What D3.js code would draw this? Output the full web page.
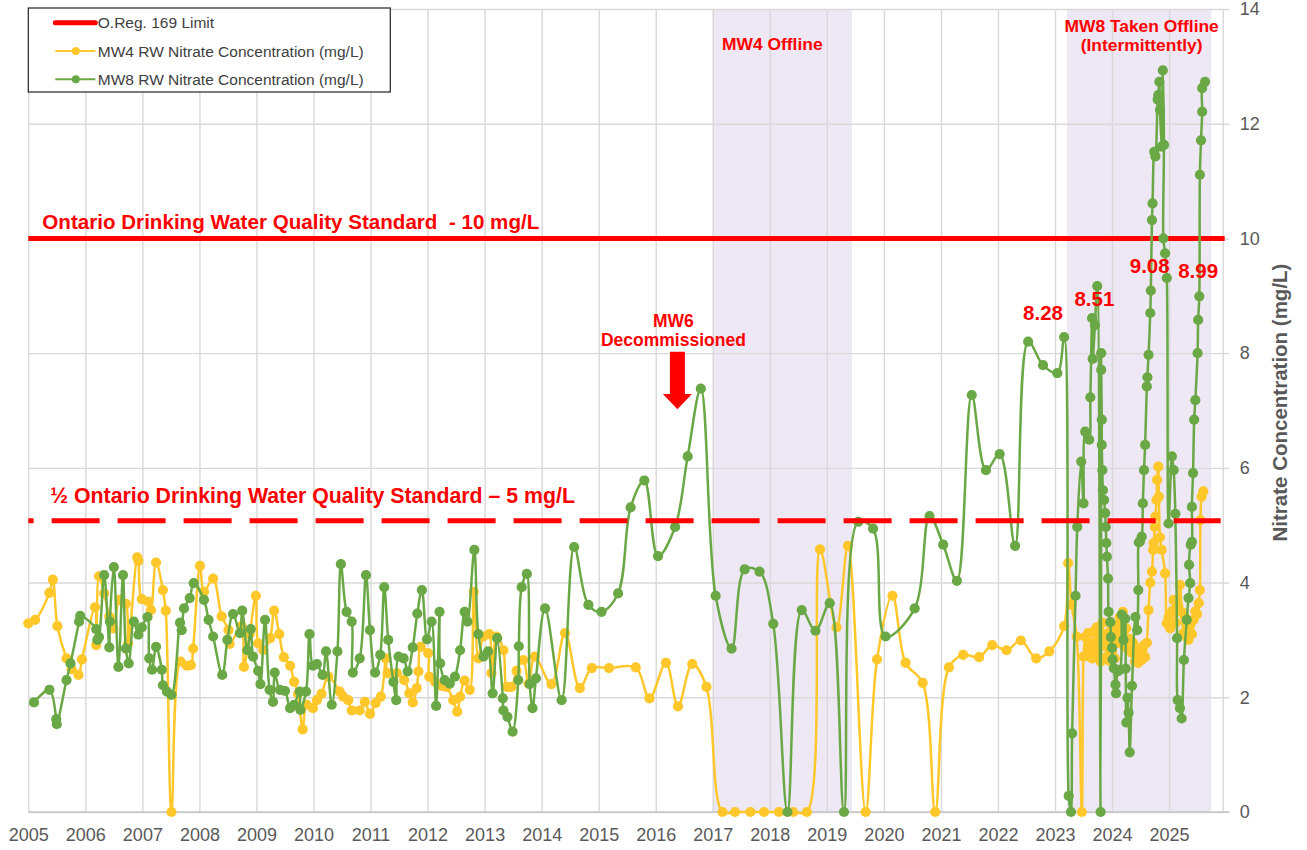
<!DOCTYPE html>
<html>
<head>
<meta charset="utf-8">
<script src="https://cdn.jsdelivr.net/npm/d3@7"></script>
<style>
  body { margin: 0; background: #fff; }
  svg { display: block; font-family: Arial, "Liberation Sans", sans-serif; }
</style>
</head>
<body>
<div id="chart"></div>
<script>
// ---- data ([decimal year, mg/L]) ----
const years = d3.range(2005, 2026)
const yTicks = d3.range(0, 15, 2)
const xMax = 2025.94

const limit = 10          // O.Reg. 169 / ODWQS
const halfLimit = 5.08    // ½ ODWQS line as drawn

const offlineBands = [
  { from: 2017.0, to: 2019.44, label: ["MW4 Offline"] },
  { from: 2023.21, to: 2025.74, label: ["MW8 Taken Offline", "(Intermittently)"] }
]

const peakLabels = ["8.28", "8.51", "9.08", "8.99"]

const mw4 = [
  [2005.00,3.29],[2005.12,3.35],[2005.37,3.82],[2005.43,4.05],[2005.51,3.24],[2005.67,2.68],[2005.76,2.49],[2005.88,2.39],
  [2005.94,2.66],[2006.17,3.57],[2006.19,2.91],[2006.24,4.11],[2006.33,3.81],[2006.42,3.41],[2006.49,3.20],[2006.60,3.70],
  [2006.71,3.63],[2006.75,2.94],[2006.91,4.44],[2006.93,4.38],[2006.99,3.71],[2007.10,3.67],[2007.15,3.52],[2007.24,4.35],
  [2007.36,3.87],[2007.41,3.51],[2007.51,0],[2007.67,2.62],[2007.78,2.55],[2007.85,2.56],[2007.89,2.85],[2008.01,4.29],
  [2008.08,3.84],[2008.24,4.07],[2008.39,3.41],[2008.51,3.17],[2008.53,2.93],[2008.74,3.24],[2008.78,2.53],[2008.88,3.10],
  [2008.99,3.77],[2009.03,2.94],[2009.12,2.82],[2009.24,3.03],[2009.31,3.51],[2009.40,3.10],[2009.48,2.70],[2009.59,2.55],
  [2009.66,2.27],[2009.73,2.06],[2009.81,1.44],[2009.88,1.87],[2009.99,1.81],[2010.06,1.95],[2010.14,2.06],[2010.26,2.36],
  [2010.46,2.10],[2010.52,2.01],[2010.61,1.95],[2010.67,1.77],[2010.81,1.77],[2010.90,1.92],[2010.99,1.71],[2011.09,1.90],
  [2011.18,2.01],[2011.27,2.68],[2011.30,2.42],[2011.46,2.42],[2011.59,2.30],[2011.68,2.07],[2011.74,1.91],[2011.81,2.16],
  [2011.84,2.45],[2011.88,2.88],[2012.01,2.77],[2012.03,2.36],[2012.13,2.27],[2012.25,2.20],[2012.33,2.18],[2012.45,1.95],
  [2012.52,1.75],[2012.57,2.01],[2012.65,2.29],[2012.74,2.13],[2012.81,3.84],[2012.89,2.68],[2012.98,3.06],[2013.08,3.10],
  [2013.12,2.42],[2013.21,3.06],[2013.33,2.82],[2013.39,2.18],[2013.47,2.18],[2013.56,2.46],[2013.68,2.65],[2013.77,2.24],
  [2013.88,2.71],[2014.17,2.23],[2014.41,3.12],[2014.67,2.16],[2014.88,2.51],[2015.18,2.51],[2015.65,2.52],[2015.89,1.98],
  [2016.18,2.60],[2016.39,1.84],[2016.64,2.58],[2016.89,2.18],[2017.17,0],[2017.39,0],[2017.66,0],[2017.90,0],
  [2018.16,0],[2018.41,0],[2018.65,0],[2018.88,4.58],[2019.17,3.22],[2019.37,4.64],[2019.68,0],[2019.88,2.66],
  [2020.15,3.77],[2020.38,2.60],[2020.68,2.25],[2020.90,0],[2021.14,2.52],[2021.39,2.74],[2021.67,2.70],[2021.90,2.91],
  [2022.15,2.82],[2022.40,2.99],[2022.67,2.68],[2022.90,2.80],[2023.16,3.24],[2023.23,4.34],[2023.29,3.61],[2023.38,3.06],
  [2023.47,0],[2023.50,2.71],[2023.53,3.05],[2023.55,2.72],[2023.58,3.12],[2023.60,2.80],[2023.63,2.95],[2023.65,2.68],
  [2023.68,3.15],[2023.70,2.85],[2023.73,3.22],[2023.75,2.75],[2023.78,3.05],[2023.80,2.62],[2023.83,3.30],[2023.85,2.90],
  [2023.88,3.10],[2023.90,2.70],[2023.93,3.00],[2023.95,2.64],[2023.98,3.18],[2024.00,2.82],[2024.03,3.08],[2024.05,2.68],
  [2024.08,3.25],[2024.10,2.95],[2024.13,3.40],[2024.16,3.05],[2024.19,3.49],[2024.22,2.88],[2024.25,3.20],[2024.28,2.92],
  [2024.31,3.02],[2024.34,2.78],[2024.37,2.95],[2024.40,2.62],[2024.43,2.85],[2024.46,2.60],[2024.49,2.75],[2024.52,2.65],
  [2024.55,2.90],[2024.58,2.70],[2024.61,2.95],[2024.64,3.52],[2024.67,4.00],[2024.70,4.19],[2024.72,4.57],[2024.73,4.69],
  [2024.75,4.97],[2024.76,5.15],[2024.78,5.44],[2024.79,5.79],[2024.81,6.02],[2024.82,5.50],[2024.84,4.79],[2024.87,4.57],
  [2024.93,4.16],[2024.96,3.29],[2024.99,3.40],[2025.02,3.20],[2025.05,3.50],[2025.08,3.70],[2025.12,3.30],[2025.16,3.60],
  [2025.19,3.96],[2025.22,3.49],[2025.25,3.12],[2025.28,3.40],[2025.31,3.05],[2025.34,3.00],[2025.37,3.25],[2025.40,3.10],
  [2025.43,3.35],[2025.46,3.50],[2025.49,3.45],[2025.52,3.64],[2025.54,3.87],[2025.55,5.09],[2025.57,5.50],[2025.60,5.59]
]

const mw8 = [
  [2005.10,1.91],[2005.37,2.13],[2005.49,1.62],[2005.50,1.53],[2005.67,2.30],[2005.74,2.59],[2005.89,3.32],[2005.91,3.42],
  [2006.19,3.19],[2006.21,3.00],[2006.24,3.05],[2006.33,4.13],[2006.42,2.87],[2006.43,3.32],[2006.50,4.27],[2006.58,2.53],
  [2006.66,4.13],[2006.71,2.85],[2006.76,2.59],[2006.85,3.32],[2006.93,3.09],[2006.99,3.22],[2007.09,3.40],[2007.12,2.68],
  [2007.17,2.48],[2007.24,2.88],[2007.34,2.48],[2007.36,2.21],[2007.43,2.10],[2007.51,2.04],[2007.66,3.30],[2007.69,3.17],
  [2007.73,3.55],[2007.83,3.73],[2007.90,3.99],[2008.08,3.70],[2008.16,3.35],[2008.24,3.06],[2008.40,2.39],[2008.49,3.00],
  [2008.59,3.45],[2008.71,3.12],[2008.75,3.51],[2008.84,2.82],[2008.90,3.19],[2008.94,2.71],[2009.03,2.46],[2009.07,2.23],
  [2009.15,3.35],[2009.23,2.13],[2009.29,1.92],[2009.32,2.43],[2009.41,2.13],[2009.50,2.11],[2009.59,1.81],[2009.66,1.87],
  [2009.76,2.10],[2009.77,1.78],[2009.87,2.10],[2009.93,3.10],[2009.99,2.55],[2010.06,2.58],[2010.16,2.39],[2010.22,2.80],
  [2010.32,1.87],[2010.42,2.80],[2010.48,4.32],[2010.58,3.49],[2010.67,3.32],[2010.69,2.43],[2010.81,2.68],[2010.92,4.13],
  [2010.99,3.17],[2011.08,2.43],[2011.17,2.74],[2011.24,3.92],[2011.31,3.00],[2011.40,2.27],[2011.45,1.95],[2011.49,2.71],
  [2011.58,2.68],[2011.65,2.45],[2011.74,2.87],[2011.82,3.46],[2011.90,3.87],[2011.99,3.01],[2012.07,3.32],[2012.15,1.85],
  [2012.21,3.49],[2012.22,2.59],[2012.30,2.30],[2012.39,2.24],[2012.48,2.36],[2012.57,2.82],[2012.65,3.49],[2012.70,3.32],
  [2012.82,4.57],[2012.89,3.10],[2012.98,2.71],[2013.06,2.80],[2013.14,2.07],[2013.22,3.03],[2013.32,1.98],[2013.33,1.77],
  [2013.40,1.66],[2013.49,1.40],[2013.59,2.30],[2013.60,2.89],[2013.65,3.92],[2013.74,4.15],[2013.79,2.23],[2013.84,1.81],
  [2013.90,2.33],[2014.06,3.55],[2014.35,1.95],[2014.57,4.62],[2014.82,3.61],[2015.05,3.49],[2015.34,3.81],[2015.56,5.31],
  [2015.80,5.78],[2016.04,4.46],[2016.34,4.97],[2016.56,6.20],[2016.79,7.38],[2017.05,3.77],[2017.33,2.85],[2017.56,4.23],
  [2017.82,4.19],[2018.06,3.28],[2018.31,0],[2018.56,3.52],[2018.80,3.16],[2019.05,3.64],[2019.30,0],[2019.55,5.06],
  [2019.81,4.94],[2020.03,3.06],[2020.54,3.55],[2020.80,5.16],[2021.04,4.66],[2021.28,4.03],[2021.54,7.27],[2021.79,5.96],
  [2022.03,6.24],[2022.30,4.64],[2022.53,8.20],[2022.79,7.79],[2023.04,7.65],[2023.16,8.28],[2023.24,0.28],[2023.28,0],
  [2023.30,1.37],[2023.36,3.77],[2023.39,4.97],[2023.46,6.11],[2023.50,5.38],[2023.53,6.63],[2023.60,6.49],[2023.62,7.23],
  [2023.65,8.61],[2023.66,7.90],[2023.70,8.49],[2023.74,9.17],[2023.80,0],[2023.81,8.00],[2023.81,7.71],[2023.82,6.84],
  [2023.82,6.40],[2023.83,5.96],[2023.84,5.61],[2023.86,5.44],[2023.88,5.21],[2023.89,4.97],[2023.90,4.69],[2023.91,4.45],
  [2023.93,4.07],[2023.94,3.49],[2023.97,3.31],[2023.98,3.05],[2024.00,2.86],[2024.01,2.66],[2024.03,2.51],[2024.06,2.22],
  [2024.07,2.07],[2024.10,2.45],[2024.14,2.48],[2024.17,3.44],[2024.20,3.00],[2024.23,3.37],[2024.24,2.50],[2024.25,1.56],
  [2024.27,1.99],[2024.29,1.73],[2024.31,1.04],[2024.35,2.20],[2024.41,3.40],[2024.44,3.17],[2024.46,3.87],[2024.47,4.70],
  [2024.49,4.72],[2024.52,4.80],[2024.54,5.38],[2024.56,5.96],[2024.58,6.40],[2024.61,7.42],[2024.62,7.58],[2024.64,7.97],
  [2024.67,8.70],[2024.68,9.09],[2024.70,10.32],[2024.71,10.61],[2024.74,11.51],[2024.76,11.43],[2024.80,12.42],[2024.81,12.50],
  [2024.83,12.73],[2024.84,12.24],[2024.87,11.60],[2024.89,12.93],[2024.91,11.63],[2024.90,10.00],[2024.93,9.74],[2024.96,9.31],
  [2024.99,5.03],[2025.05,6.20],[2025.08,5.96],[2025.11,5.20],[2025.14,3.03],[2025.15,1.95],[2025.19,1.81],[2025.22,1.63],
  [2025.26,2.65],[2025.31,3.35],[2025.34,3.73],[2025.37,3.99],[2025.35,4.31],[2025.38,4.66],[2025.40,4.71],[2025.40,5.32],
  [2025.42,5.91],[2025.44,6.84],[2025.46,7.18],[2025.50,8.00],[2025.51,8.58],[2025.53,8.99],[2025.54,11.11],[2025.56,11.71],
  [2025.58,12.21],[2025.58,12.62],[2025.63,12.73]
]

// ---- chart ----
const W = 1307, H = 850
const plotLeft = 28.3, plotRight = 1222.7, plotTop = 9, plotBottom = 812

const x = d3.scaleLinear().domain([2005, xMax]).range([plotLeft, plotRight])
const y = d3.scaleLinear().domain([0, 14]).range([plotBottom, plotTop])

const RED = "#ff0000", YELLOW = "#ffc729", GREEN = "#6aa846", GREY = "#595959"

const svg = d3.select("#chart").append("svg")
  .attr("width", W).attr("height", H)

svg.append("rect").attr("width", W).attr("height", H).attr("fill", "#fff")

// offline bands
svg.selectAll(".band")
  .data(offlineBands)
  .join("rect")
  .attr("class", "band")
  .attr("x", d => x(d.from))
  .attr("width", d => x(d.to) - x(d.from))
  .attr("y", y(14))
  .attr("height", y(0) - y(14))
  .attr("fill", "#ede8f3")

// vertical gridlines
svg.append("g")
  .attr("transform", `translate(0,${plotBottom})`)
  .call(d3.axisBottom(x).tickValues([...years, xMax]).tickSize(-(plotBottom - plotTop)).tickFormat(""))
  .call(g => g.select(".domain").remove())
  .selectAll("line").attr("stroke", "#d9d9d9").attr("stroke-width", 1.4)

// horizontal gridlines (stick out a little on the right like tick marks)
svg.append("g")
  .attr("transform", `translate(${plotRight + 6.5},0)`)
  .call(d3.axisLeft(y).tickValues(yTicks).tickSize(plotRight + 6.5 - plotLeft).tickFormat(""))
  .call(g => g.select(".domain").remove())
  .selectAll("line").attr("stroke", "#d9d9d9").attr("stroke-width", 1.4)

// x axis line + labels
svg.append("line")
  .attr("x1", plotLeft).attr("x2", plotRight + 6.5)
  .attr("y1", y(0)).attr("y2", y(0))
  .attr("stroke", "#c4c4c4").attr("stroke-width", 1.6)

svg.append("g")
  .attr("transform", `translate(0,${plotBottom})`)
  .call(d3.axisBottom(x).tickValues(years).tickSize(0).tickPadding(16.5).tickFormat(d3.format("d")))
  .call(g => g.select(".domain").remove())
  .selectAll("text")
  .attr("fill", GREY).style("font-size", "18px")

// y axis labels on the right
svg.append("g")
  .attr("transform", `translate(${plotRight},0)`)
  .call(d3.axisRight(y).tickValues(yTicks).tickSize(0).tickPadding(17))
  .call(g => g.select(".domain").remove())
  .selectAll("text")
  .attr("fill", GREY).style("font-size", "18px")

svg.append("text")
  .attr("transform", `translate(${plotRight + 64.5},${(y(0) + y(14)) / 2 - 8}) rotate(-90)`)
  .attr("text-anchor", "middle")
  .attr("fill", GREY)
  .style("font-size", "20.5px").style("font-weight", "bold")
  .text("Nitrate Concentration (mg/L)")

// 10 mg/L limit
svg.append("line")
  .attr("x1", x(2005)).attr("x2", x(xMax) + 2)
  .attr("y1", y(limit)).attr("y2", y(limit))
  .attr("stroke", RED).attr("stroke-width", 5)

// series
const line = d3.line()
  .x(d => x(d[0]))
  .y(d => y(d[1]))
  .curve(d3.curveCatmullRom.alpha(0.5))

const series = [
  { name: "MW4 RW Nitrate Concentration (mg/L)", data: mw4, color: YELLOW },
  { name: "MW8 RW Nitrate Concentration (mg/L)", data: mw8, color: GREEN }
]

series.forEach(s => {
  const g = svg.append("g")
  g.append("path")
    .datum(s.data)
    .attr("d", line)
    .attr("fill", "none")
    .attr("stroke", s.color)
    .attr("stroke-width", 2.5)
  g.selectAll("circle")
    .data(s.data)
    .join("circle")
    .attr("cx", d => x(d[0]))
    .attr("cy", d => y(d[1]))
    .attr("r", 5.1)
    .attr("fill", s.color)
})

// ½ standard dashed line (on top of series)
svg.append("line")
  .attr("x1", x(2005)).attr("x2", x(xMax) - 2)
  .attr("y1", y(halfLimit)).attr("y2", y(halfLimit))
  .attr("stroke", RED).attr("stroke-width", 5)
  .attr("stroke-dasharray", "48,18")
  .attr("stroke-dashoffset", 42.7)

// annotations
const redText = (tx, ty, txt, size, anchor) => svg.append("text")
  .attr("x", tx).attr("y", ty)
  .attr("text-anchor", anchor || "start")
  .attr("fill", RED)
  .style("font-size", size + "px").style("font-weight", "bold")
  .style("white-space", "pre")
  .text(txt)

redText(x(2005) + 14, y(limit) - 9, "Ontario Drinking Water Quality Standard  - 10 mg/L", 20.6)
redText(x(2005) + 22, y(halfLimit) - 18, "\u00bd Ontario Drinking Water Quality Standard \u2013 5 mg/L", 21.3)

const bandLabelShift = [-10, 2.5]
offlineBands.forEach((b, i) => {
  const cx = (x(b.from) + x(b.to)) / 2 + bandLabelShift[i]
  b.label.forEach((t, j) => redText(cx, y(14) + (i === 0 ? 41 : 23) + j * 19, t, 17.4, "middle"))
})

// MW6 decommissioned arrow
const arrowX = x(2016.38), arrowTip = y(7.02)
redText(arrowX - 4, arrowTip - 82, "MW6", 17.5, "middle")
redText(arrowX - 4, arrowTip - 63, "Decommissioned", 17.5, "middle")
svg.append("path")
  .attr("d", `M${arrowX - 7.5},${arrowTip - 57.6} h15 v42.3 h7 L${arrowX},${arrowTip} L${arrowX - 14.5},${arrowTip - 15.3} h7 Z`)
  .attr("fill", RED)

// peak value labels, anchored on the peak samples
const peakAnchors = [[2022.79, 8.57], [2023.69, 8.82], [2024.66, 9.40], [2025.51, 9.31]]
peakLabels.forEach((t, i) => redText(x(peakAnchors[i][0]), y(peakAnchors[i][1]), t, 20.5, "middle"))

// legend
const legend = svg.append("g").attr("transform", "translate(28.3,8)")
legend.append("rect")
  .attr("width", 362).attr("height", 84)
  .attr("fill", "#fff").attr("stroke", "#222").attr("stroke-width", 1.2)

const legendItems = [
  { name: "O.Reg. 169 Limit", color: RED, limit: true },
  ...series
]
legendItems.forEach((d, i) => {
  const ly = 14.7 + i * 28.3
  const g = legend.append("g").attr("transform", `translate(0,${ly})`)
  g.append("line")
    .attr("x1", 27).attr("x2", 67)
    .attr("stroke", d.color)
    .attr("stroke-width", d.limit ? 5 : 2)
    .attr("stroke-linecap", d.limit ? "round" : "butt")
  if (!d.limit) g.append("circle").attr("cx", 47.5).attr("r", 4).attr("fill", d.color)
  g.append("text")
    .attr("x", 69.5).attr("y", 5.6)
    .attr("fill", "#404040")
    .style("font-size", "15.5px")
    .text(d.name)
})
</script>
</body>
</html>
